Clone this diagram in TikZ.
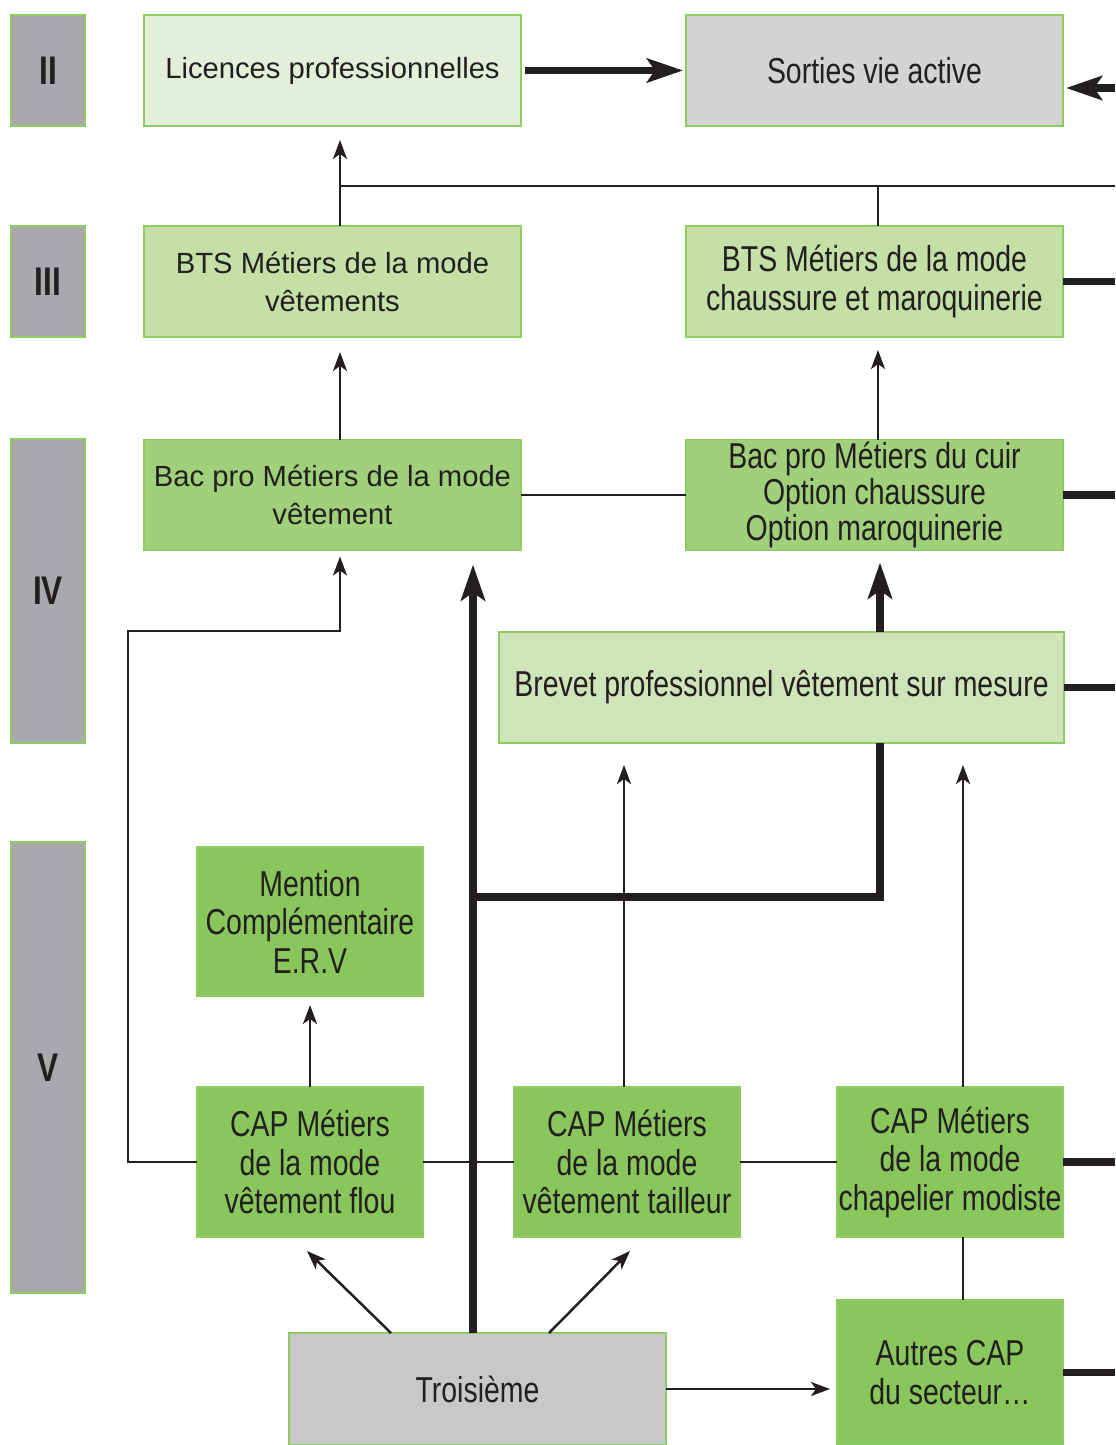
\documentclass[tikz,border=0pt]{standalone}
\usepackage{fontspec}
\setmainfont{Liberation Sans}
\newfontfamily\condfont[FakeStretch=0.79]{Liberation Sans}
\usetikzlibrary{arrows.meta}

\definecolor{ink}{HTML}{231F20}
\definecolor{boxedge}{HTML}{8DCB63}
\definecolor{levelgray}{HTML}{A7A9AC}
\definecolor{outgray}{HTML}{D1D3D4}
\definecolor{troisgray}{HTML}{C7C8CA}
\definecolor{licfill}{HTML}{E3EFD9}
\definecolor{btsfill}{HTML}{C4E0A6}
\definecolor{bacfill}{HTML}{A1D07B}
\definecolor{bpfill}{HTML}{CFE5B9}
\definecolor{capfill}{HTML}{89C65B}

\tikzset{
  box/.style={draw=boxedge, line width=0.75pt, inner sep=0pt, outer sep=0pt,
    align=center, text=ink},
  level/.style={box, fill=levelgray, minimum width=37pt,
    font=\condfont\bfseries\fontsize{20}{22}\selectfont},
  widefont/.style={font=\fontsize{14.6}{19}\selectfont},
  condfont/.style={font=\condfont\fontsize{18}{19.25}\selectfont},
  bigbox/.style={box, minimum width=188.5pt, minimum height=55.5pt},
  capbox/.style={box, fill=capfill, condfont, minimum width=113pt, minimum height=75pt},
  thinline/.style={draw=ink, line width=1.25pt},
  thinarrow/.style={thinline, -{Stealth[length=9.5pt, width=7pt, inset=2.5pt]}},
  thickline/.style={draw=ink, line width=3.8pt},
  thickarrow/.style={thickline, -{Stealth[length=18pt, width=12pt, inset=4pt]}}
}

\begin{document}
\begin{tikzpicture}[x=0.5pt, y=-0.5pt]
\useasboundingbox (0,0) rectangle (1115,1445);
\coordinate (edge) at (1115,0);

% niveaux
\node[level, minimum height=55.5pt] (lvII) at (48,70.5) {II};
\node[level, minimum height=55.5pt] (lvIII) at (48,281.5) {III};
\node[level, minimum height=152pt] (lvIV) at (48,591) {IV};
\node[level, minimum height=225.5pt] (lvV) at (48,1067.5) {V};

% formations
\node[bigbox, widefont, fill=licfill] (lic) at (332.5,70.5) {Licences professionnelles};
\node[bigbox, condfont, fill=outgray] (sorties) at (874.5,70.5) {Sorties vie active};
\node[bigbox, widefont, fill=btsfill] (btsV) at (332.5,281.5) {BTS Métiers de la mode\\vêtements};
\node[bigbox, condfont, fill=btsfill] (btsC) at (874.5,281.5) {BTS Métiers de la mode\\chaussure et maroquinerie};
\node[bigbox, widefont, fill=bacfill] (bacV) at (332.5,495) {Bac pro Métiers de la mode\\vêtement};
\node[bigbox, condfont, fill=bacfill, font=\condfont\fontsize{18}{16.75}\selectfont] (bacC) at (874.5,495) {Bac pro Métiers du cuir\\Option chaussure\\Option maroquinerie};
\node[box, condfont, fill=bpfill, minimum width=282.5pt, minimum height=55.5pt] (brevet) at (781.5,687.5) {Brevet professionnel vêtement sur mesure};
\node[capbox, minimum height=74.5pt] (mc) at (310,921.5) {Mention\\Complémentaire\\E.R.V};
\node[capbox] (capF) at (310,1162) {CAP Métiers\\de la mode\\vêtement flou};
\node[capbox] (capT) at (627,1162) {CAP Métiers\\de la mode\\vêtement tailleur};
\node[capbox] (capC) at (950,1162) {CAP Métiers\\de la mode\\chapelier modiste};
\node[capbox, minimum height=72.5pt] (autres) at (950,1372.5) {Autres CAP\\du secteur…};
\node[bigbox, condfont, fill=troisgray, minimum height=56pt] (trois) at (477.5,1389) {Troisième};

% sorties vers la droite
\coordinate (rsort) at (1115,88);
\draw[thickarrow, shorten >=1.5pt] (rsort) -- (rsort -| sorties.east);
\draw[thickline] (btsC.east) -- (btsC.east -| edge);
\draw[thickline] (bacC.east) -- (bacC.east -| edge);
\draw[thickline] (brevet.east) -- (brevet.east -| edge);
\draw[thickline] (capC.east) -- (capC.east -| edge);
\draw[thickline] (autres.east) -- (autres.east -| edge);
\draw[thickarrow, shorten <=2pt, shorten >=1.5pt] (lic.east) -- (sorties.west);

% niveau III vers II
\coordinate (jn) at (340,186);
\draw[thinarrow, shorten >=7pt] ([xshift=3.75pt]btsV.north) -- ([xshift=3.75pt]lic.south);
\draw[thinline] (jn) -- (jn -| edge);
\draw[thinline] ([xshift=1.75pt]btsC.north) -- ([xshift=1.75pt]btsC.north |- jn);

% niveau IV vers III
\draw[thinarrow, shorten >=7.5pt] ([xshift=3.75pt]bacV.north) -- ([xshift=3.75pt]btsV.south);
\draw[thinarrow, shorten >=6.5pt] ([xshift=1.75pt]bacC.north) -- ([xshift=1.75pt]btsC.south);
\draw[thinline] (bacV.east) -- (bacC.west);

% CAP vers Bac pro
\coordinate (lp) at (128,631);
\draw[thinarrow, shorten >=3pt] (capF.west) -| (lp) -| ([xshift=3.75pt]bacV.south);
\draw[thickarrow, shorten >=7pt] ([xshift=-2.25pt]trois.north) -- ([xshift=-2.25pt]trois.north |- bacV.south);
\coordinate (br) at (473,897);
\draw[thickline] (br) -| ([xshift=2.75pt]bacC.south |- brevet.south);
\draw[thickarrow, shorten >=6pt] ([xshift=2.75pt]bacC.south |- brevet.north) -- ([xshift=2.75pt]bacC.south);

% CAP vers MC et BP
\draw[thinarrow, shorten >=4.5pt] (capF.north) -- (mc.south);
\draw[thinarrow, shorten >=11pt] ([xshift=-1.5pt]capT.north) -- ([xshift=-1.5pt]capT.north |- brevet.south);
\draw[thinarrow, shorten >=11pt] ([xshift=6.5pt]capC.north) -- ([xshift=6.5pt]capC.north |- brevet.south);
\draw[thinline] (capF.east) -- (capT.west);
\draw[thinline] (capT.east) -- (capC.west);

% Troisieme
\draw[thinarrow] ([xshift=-43.25pt]trois.north) -- ([shift={(-1.5pt,-7pt)}]capF.south);
\draw[thinarrow] ([xshift=35.75pt]trois.north) -- ([shift={(1.5pt,-7pt)}]capT.south);
\draw[thinarrow, shorten >=3.5pt] (trois.east) -- (trois.east -| autres.west);
\draw[thinline] ([xshift=6.5pt]capC.south) -- ([xshift=6.5pt]autres.north);
\end{tikzpicture}
\end{document}
